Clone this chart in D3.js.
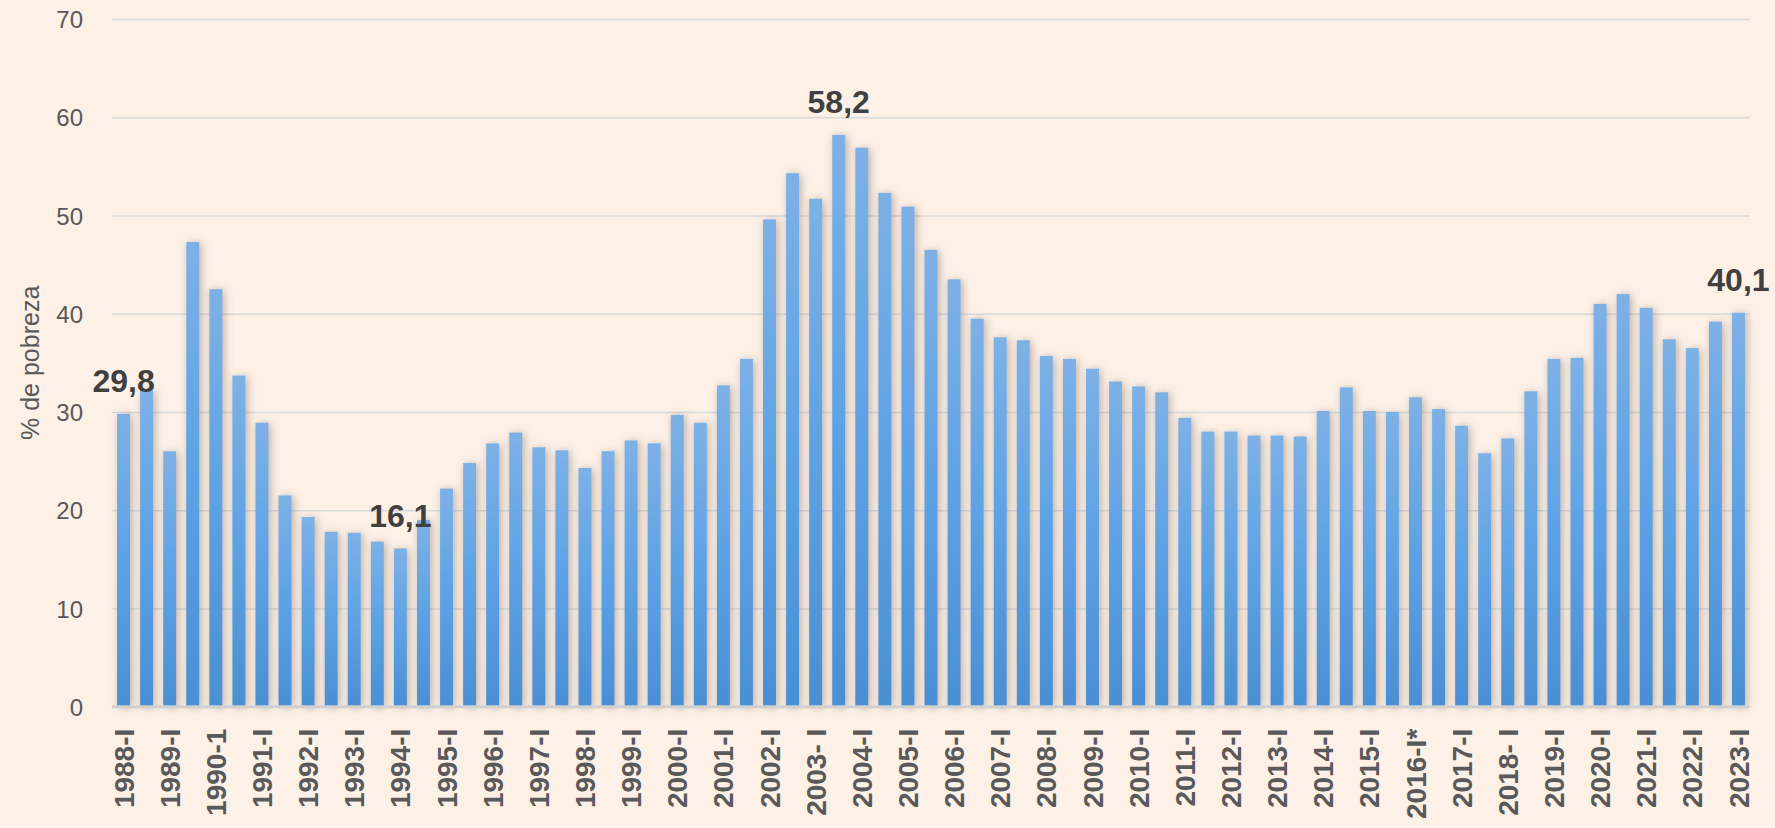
<!DOCTYPE html>
<html>
<head>
<meta charset="utf-8">
<script src="https://cdn.jsdelivr.net/npm/d3@7"></script>
<style>
  html, body { margin: 0; padding: 0; background: #fdf1e7; }
  svg { display: block; }
</style>
</head>
<body>
<svg id="chart" width="1775" height="828"></svg>
<script>
// ---- data ----
const periods = [
  "1988-I","1988-II","1989-I","1989-II","1990-I","1990-II","1991-I","1991-II",
  "1992-I","1992-II","1993-I","1993-II","1994-I","1994-II","1995-I","1995-II",
  "1996-I","1996-II","1997-I","1997-II","1998-I","1998-II","1999-I","1999-II",
  "2000-I","2000-II","2001-I","2001-II","2002-I","2002-II","2003-I","2003-II",
  "2004-I","2004-II","2005-I","2005-II","2006-I","2006-II","2007-I","2007-II",
  "2008-I","2008-II","2009-I","2009-II","2010-I","2010-II","2011-I","2011-II",
  "2012-I","2012-II","2013-I","2013-II","2014-I","2014-II","2015-I","2015-II",
  "2016-I","2016-II","2017-I","2017-II","2018-I","2018-II","2019-I","2019-II",
  "2020-I","2020-II","2021-I","2021-II","2022-I","2022-II","2023-I"
];
const poverty = [
  29.8, 32.2, 26.0, 47.3, 42.5, 33.7, 28.9, 21.5,
  19.3, 17.8, 17.7, 16.8, 16.1, 19.0, 22.2, 24.8,
  26.8, 27.9, 26.4, 26.1, 24.3, 26.0, 27.1, 26.8,
  29.7, 28.9, 32.7, 35.4, 49.6, 54.3, 51.7, 58.2,
  56.9, 52.3, 50.9, 46.5, 43.5, 39.5, 37.6, 37.3,
  35.7, 35.4, 34.4, 33.1, 32.6, 32.0, 29.4, 28.0,
  28.0, 27.6, 27.6, 27.5, 30.1, 32.5, 30.1, 30.0,
  31.5, 30.3, 28.6, 25.8, 27.3, 32.1, 35.4, 35.5,
  41.0, 42.0, 40.6, 37.4, 36.5, 39.2, 40.1
];
// tick labels shown on the axis (every other period)
const tickLabels = [
  "1988-I","1989-I","1990-1","1991-I","1992-I","1993-I","1994-I","1995-I",
  "1996-I","1997-I","1998-I","1999-I","2000-I","2001-I","2002-I","2003- I",
  "2004-I","2005-I","2006-I","2007-I","2008-I","2009-I","2010-I","2011-I",
  "2012-I","2013-I","2014-I","2015-I","2016-I*","2017-I","2018- I","2019-I",
  "2020-I","2021-I","2022-I","2023-I"
];
const tickPeriods = periods.filter((d, i) => i % 2 === 0);
const highlighted = ["1988-I", "1994-I", "2003-II", "2023-I"];
const yTicks = [0, 10, 20, 30, 40, 50, 60, 70];
const yTitle = "% de pobreza";

// ---- layout ----
const svg = d3.select("#chart");
const plot = { left: 112, right: 1750, top: 19, bottom: 706.7 };
const x = d3.scaleBand().domain(periods).range([plot.left, plot.right]).paddingInner(0.44).paddingOuter(0.22);
const y = d3.scaleLinear().domain([0, 70]).range([plot.bottom, plot.top]);

const defs = svg.append("defs");
const grad = defs.append("linearGradient").attr("id", "barGrad")
  .attr("x1", 0).attr("y1", 0).attr("x2", 0).attr("y2", 1);
grad.append("stop").attr("offset", "0%").attr("stop-color", "#7db1e6");
grad.append("stop").attr("offset", "50%").attr("stop-color", "#5da2e4");
grad.append("stop").attr("offset", "100%").attr("stop-color", "#4a8fd3");
const filt = defs.append("filter").attr("id", "shadow")
  .attr("x", "-60%").attr("y", "-5%").attr("width", "220%").attr("height", "110%");
filt.append("feGaussianBlur").attr("in", "SourceAlpha").attr("stdDeviation", 4).attr("result", "b");
filt.append("feOffset").attr("in", "b").attr("dx", 2).attr("dy", 1).attr("result", "o");
filt.append("feFlood").attr("flood-color", "#7a6a60").attr("flood-opacity", 0.5).attr("result", "c");
filt.append("feComposite").attr("in", "c").attr("in2", "o").attr("operator", "in").attr("result", "s");
const fm = filt.append("feMerge");
fm.append("feMergeNode").attr("in", "s");
fm.append("feMergeNode").attr("in", "SourceGraphic");

// gridlines + y axis labels
const yAxis = d3.axisLeft(y).tickValues(yTicks).tickSize(-(plot.right - plot.left)).tickFormat(d3.format("d"));
const gy = svg.append("g").attr("transform", `translate(${plot.left},0)`).call(yAxis);
gy.select(".domain").remove();
gy.selectAll(".tick line").attr("stroke", "#d9d9d9").attr("stroke-width", 1.6);
gy.selectAll(".tick text")
  .attr("x", -29).attr("dy", "0.36em")
  .attr("fill", "#595959")
  .style("font-family", "'Liberation Sans', Arial, sans-serif")
  .style("font-size", "24px");

// bars
svg.append("g").attr("filter", "url(#shadow)")
  .selectAll("rect").data(periods).join("rect")
  .attr("x", d => x(d))
  .attr("width", x.bandwidth())
  .attr("y", (d, i) => y(poverty[i]))
  .attr("height", (d, i) => y(0) - y(poverty[i]))
  .attr("fill", "url(#barGrad)");

// x axis
const xAxis = d3.axisBottom(x).tickValues(tickPeriods).tickSize(0)
  .tickFormat(d => tickLabels[tickPeriods.indexOf(d)]);
const gx = svg.append("g").attr("transform", `translate(0,${plot.bottom})`).call(xAxis);
gx.select(".domain").attr("stroke", "#d0d0d0").attr("stroke-width", 3)
  .attr("d", `M${plot.left},0H${plot.right}`);
gx.selectAll(".tick text")
  .attr("transform", "rotate(-90)")
  .attr("text-anchor", "end")
  .attr("x", -22).attr("y", 0).attr("dy", "0.36em")
  .attr("fill", "#595959")
  .style("font-family", "'Liberation Sans', Arial, sans-serif")
  .style("font-weight", "bold")
  .style("font-size", "28px");

// data labels
svg.append("g").selectAll("text").data(highlighted).join("text")
  .attr("x", d => x(d) + x.bandwidth() / 2)
  .attr("y", d => y(poverty[periods.indexOf(d)]) - 22)
  .attr("text-anchor", "middle")
  .attr("fill", "#404040")
  .style("font-family", "'Liberation Sans', Arial, sans-serif")
  .style("font-weight", "bold")
  .style("font-size", "32px")
  .text(d => d3.format(".1f")(poverty[periods.indexOf(d)]).replace(".", ","));

// y title
svg.append("text")
  .attr("transform", `translate(39,${(plot.top + plot.bottom) / 2}) rotate(-90)`)
  .attr("text-anchor", "middle")
  .attr("fill", "#595959")
  .style("font-family", "'Liberation Sans', Arial, sans-serif")
  .style("font-size", "25px")
  .text(yTitle);
</script>
</body>
</html>
